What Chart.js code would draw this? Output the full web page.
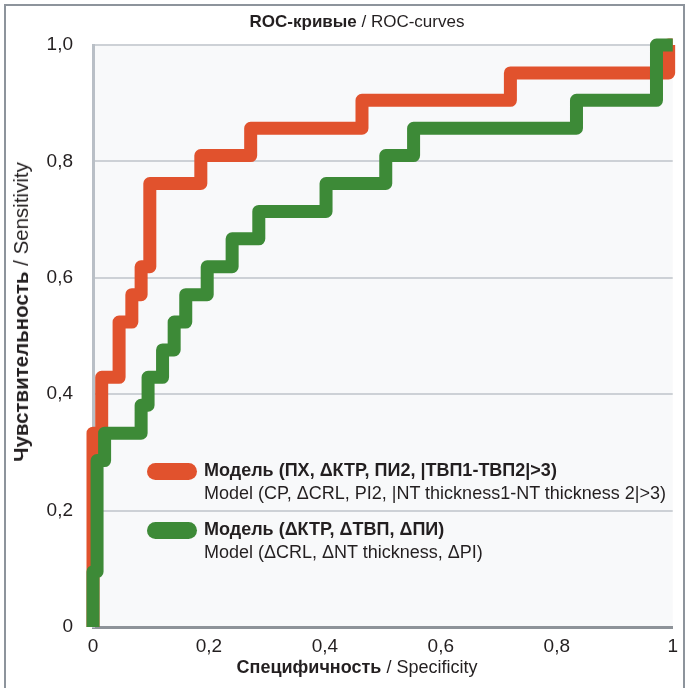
<!DOCTYPE html>
<html>
<head>
<meta charset="utf-8">
<script src="https://cdn.jsdelivr.net/npm/chart.js@4.4.0/dist/chart.umd.min.js"></script>
<style>
  html, body { margin: 0; padding: 0; background: #fff; }
  #wrap { position: relative; width: 686px; height: 688px; overflow: hidden;
          font-family: 'Liberation Sans', 'Arial', sans-serif; color: #231f20; }
  #frame { position: absolute; left: 4px; top: 4px; width: 677px; height: 700px; border: 2px solid #8d949c; }
  #roc { position: absolute; left: 0; top: 0; }
  .txt { position: absolute; white-space: nowrap; font-size: 18px; line-height: 20px; }
  .txt b { font-weight: bold; }
  #title { top: 12px; left: 357px; font-size: 17px; transform: translateX(-50%); }
  #xtitle { top: 657px; left: 357px; transform: translateX(-50%); }
  #ytitle { top: 312px; left: 21px; font-size: 20.5px; transform: translate(-50%, -50%) rotate(-90deg); }
  .sw { position: absolute; width: 50px; height: 17px; border-radius: 9px; }
</style>
</head>
<body>
<div id="wrap">
  <div id="frame"></div>
  <canvas id="roc" width="686" height="688"></canvas>
  <div class="txt" id="title"><b>ROC-кривые</b> / ROC-curves</div>
  <div class="txt" id="xtitle"><b>Специфичность</b> / Specificity</div>
  <div class="txt" id="ytitle"><b>Чувствительность</b> / Sensitivity</div>
  <div id="legend"></div>
</div>
<script>
// ROC-кривые, значения
var redSpec = [0, 0, 0.015, 0.045, 0.067, 0.083, 0.098, 0.186, 0.272, 0.464, 0.72, 0.993, 1];
var redSens = [0, 0.333, 0.429, 0.524, 0.571, 0.619, 0.762, 0.81, 0.857, 0.905, 0.952, 1, 1];

var greenSpec = [0, 0, 0.007, 0.02, 0.083, 0.095, 0.12, 0.14, 0.16, 0.197, 0.24, 0.286, 0.402, 0.505, 0.553, 0.834, 0.972, 1];
var greenSens = [0, 0.095, 0.286, 0.333, 0.381, 0.429, 0.476, 0.524, 0.571, 0.619, 0.667, 0.714, 0.762, 0.81, 0.857, 0.905, 1, 1];

var xTickLabels = ['0', '0,2', '0,4', '0,6', '0,8', '1'];
var yTickLabels = ['0', '0,2', '0,4', '0,6', '0,8', '1,0'];

var legendRu = ['Модель (ПХ, ΔКТР, ПИ2, |ТВП1-ТВП2|>3)', 'Модель (ΔКТР, ΔТВП, ΔПИ)'];
var legendEn = ['Model (CP, ΔCRL, PI2, |NT thickness1-NT thickness 2|>3)', 'Model (ΔCRL, ΔNT thickness, ΔPI)'];

var redColor = '#e1522d';
var greenColor = '#3d8a37';

function toPoints(xs, ys) {
    return xs.map(function (x, i) { return { x: x, y: ys[i] }; });
}

// легенда (HTML)
var legendColors = [redColor, greenColor];
var legendTop = [461, 520];
var legendHtml = '';
for (var i = 0; i < legendRu.length; i++) {
    legendHtml += '<div class="sw" style="left:147px;top:' + (legendTop[i] + 2) + 'px;background:' + legendColors[i] + '"></div>';
    legendHtml += '<div class="txt" style="left:204px;top:' + (legendTop[i] - 1) + 'px"><b>' + legendRu[i] + '</b></div>';
    legendHtml += '<div class="txt" style="left:204px;top:' + (legendTop[i] + 22) + 'px">' + legendEn[i] + '</div>';
}
document.getElementById('legend').innerHTML = legendHtml;

var plotBg = {
    id: 'plotBg',
    beforeDraw: function (chart) {
        var a = chart.chartArea, c = chart.ctx;
        c.save();
        c.fillStyle = '#f8f9fa';
        c.fillRect(a.left, a.top, a.right - a.left, a.bottom - a.top);
        c.restore();
    }
};

var tickFont = { family: "'Liberation Sans', sans-serif", size: 19 };

var ctx = document.getElementById('roc').getContext('2d');
var rocChart = new Chart(ctx, {
    type: 'line',
    data: {
        datasets: [{
            label: legendRu[1],
            data: toPoints(greenSpec, greenSens),
            borderColor: greenColor,
            borderWidth: 13,
            stepped: 'before',
            borderJoinStyle: 'round',
            borderCapStyle: 'butt',
            pointRadius: 0,
            fill: false,
            clip: false
        }, {
            label: legendRu[0],
            data: toPoints(redSpec, redSens),
            borderColor: redColor,
            borderWidth: 13,
            stepped: 'before',
            borderJoinStyle: 'round',
            borderCapStyle: 'butt',
            pointRadius: 0,
            fill: false,
            clip: false
        }]
    },
    options: {
        responsive: false,
        animation: false,
        devicePixelRatio: 1,
        layout: { padding: { left: 33, top: 45, right: 13, bottom: 0 } },
        plugins: {
            legend: { display: false },
            tooltip: { enabled: false }
        },
        scales: {
            x: {
                type: 'linear',
                min: 0,
                max: 1,
                afterFit: function (s) { s.height = 61; },
                grid: { display: false, drawTicks: false },
                border: { display: true, color: '#8e9399', width: 3 },
                ticks: {
                    stepSize: 0.2,
                    padding: 8,
                    color: '#231f20',
                    font: tickFont,
                    callback: function (v, i) { return xTickLabels[i]; }
                }
            },
            y: {
                type: 'linear',
                min: 0,
                max: 1,
                afterFit: function (s) { s.width = 60; },
                grid: {
                    drawTicks: false,
                    lineWidth: 2,
                    color: function (c) { return c.tick && c.tick.value === 0 ? 'rgba(0,0,0,0)' : '#cdd1d6'; }
                },
                border: { display: true, color: '#b9bfc6', width: 3 },
                ticks: {
                    stepSize: 0.2,
                    padding: 20,
                    color: '#231f20',
                    font: tickFont,
                    callback: function (v, i) { return yTickLabels[i]; }
                }
            }
        }
    },
    plugins: [plotBg]
});
</script>
</body>
</html>
